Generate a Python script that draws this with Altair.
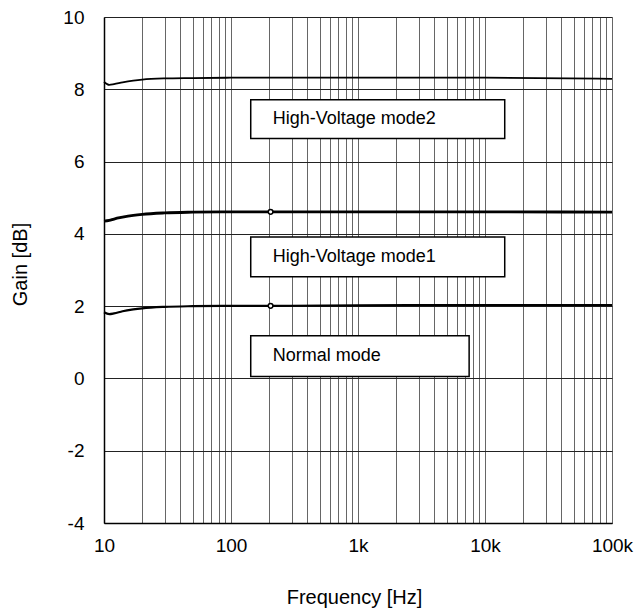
import altair as alt
import pandas as pd

freq = [10, 11, 12, 14, 17, 20, 30, 50, 100, 200, 1000, 10000, 100000]
hv2 = [8.20, 8.12, 8.14, 8.19, 8.24, 8.27, 8.30, 8.31, 8.32, 8.32, 8.32, 8.32, 8.29]
hv1 = [4.35, 4.37, 4.41, 4.46, 4.51, 4.54, 4.58, 4.60, 4.61, 4.61, 4.61, 4.61, 4.60]
normal = [1.83, 1.78, 1.80, 1.86, 1.91, 1.94, 1.98, 2.00, 2.01, 2.01, 2.02, 2.03, 2.03]

series = ["High-Voltage mode2", "High-Voltage mode1", "Normal mode"]
widths = [1.8, 2.8, 2.2]

marker_freq = [205, 205]
marker_gain = [4.61, 2.01]

box_labels = ["High-Voltage mode2", "High-Voltage mode1", "Normal mode"]
box_x1 = [143, 143, 143]
box_x2 = [14300, 14300, 7500]
box_y1 = [7.71, 3.91, 1.18]
box_y2 = [6.64, 2.81, 0.05]
text_x = [213, 213, 213]

tick_vals = [10, 100, 1000, 10000, 100000]
tick_labels = ["10", "100", "1k", "10k", "100k"]
grid_vals = [m * 10 ** e for e in range(1, 5) for m in range(1, 10)] + [100000]
y_vals = [-4, -2, 0, 2, 4, 6, 8, 10]

rows = []
for name, vals, w in zip(series, [hv2, hv1, normal], widths):
    for f, g in zip(freq, vals):
        rows.append({"series": name, "f": f, "g": g, "w": w})
df = pd.DataFrame(rows)

label_expr = " : ".join(
    [f"datum.value == {v} ? '{l}'" for v, l in zip(tick_vals, tick_labels)]
) + " : ''"

FONT = "Liberation Sans"
xscale = alt.Scale(type="log", domain=[10, 100000])
yscale = alt.Scale(domain=[-4, 10])

xaxis = alt.Axis(
    values=grid_vals, labelExpr=label_expr, grid=True, gridColor="#666666",
    gridWidth=1, ticks=False, labelPadding=13, labelFontSize=19,
    labelFont=FONT, labelColor="black", title="Frequency [Hz]",
    titleFont=FONT, titleFontSize=20, titleFontWeight="normal", titleColor="black",
    titleX=250, titleY=74, titleBaseline="middle", domainColor="black",
    domainWidth=1.5, labelFlush=False, labelOverlap=False,
)
yaxis = alt.Axis(
    values=y_vals, labelExpr="datum.value + ''", grid=True, gridColor="#222222",
    gridWidth=1, ticks=False, labelPadding=20, labelFontSize=19,
    labelFont=FONT, labelColor="black", title="Gain [dB]",
    titleFont=FONT, titleFontSize=20, titleFontWeight="normal", titleColor="black",
    titleX=-84, titleY=247, titleAngle=-90, titleAlign="center",
    titleBaseline="middle", domainColor="black", domainWidth=1.5,
)

lines = alt.Chart(df).mark_line(color="black", interpolate="monotone").encode(
    x=alt.X("f:Q", scale=xscale, axis=xaxis),
    y=alt.Y("g:Q", scale=yscale, axis=yaxis),
    detail="series:N",
    strokeWidth=alt.StrokeWidth("w:Q", scale=None, legend=None),
)

mdf = pd.DataFrame({"f": marker_freq, "g": marker_gain})
markers = alt.Chart(mdf).mark_point(
    shape="circle", filled=True, fill="white", stroke="black", strokeWidth=1.5, size=22, opacity=1
).encode(x=alt.X("f:Q", scale=xscale), y=alt.Y("g:Q", scale=yscale))

bdf = pd.DataFrame({"label": box_labels, "x1": box_x1, "x2": box_x2,
                    "y1": box_y1, "y2": box_y2, "tx": text_x,
                    "ty": [(a + b) / 2 for a, b in zip(box_y1, box_y2)]})
boxes = alt.Chart(bdf).mark_rect(fill="white", stroke="black", strokeWidth=1.5).encode(
    x=alt.X("x1:Q", scale=xscale), x2="x2:Q",
    y=alt.Y("y1:Q", scale=yscale), y2="y2:Q",
)
texts = alt.Chart(bdf).mark_text(
    align="left", baseline="middle", font=FONT, fontSize=18, color="black"
).encode(x=alt.X("tx:Q", scale=xscale), y=alt.Y("ty:Q", scale=yscale), text="label:N")

chart = alt.layer(lines, markers, boxes, texts).properties(
    width=508, height=506, autosize="none",
    padding={"left": 96, "top": 9, "right": 22, "bottom": 88},
).configure_view(stroke="black", strokeWidth=1.5).configure(background="white")

chart.save("out.html", embed_options={"renderer": "svg", "actions": False})
